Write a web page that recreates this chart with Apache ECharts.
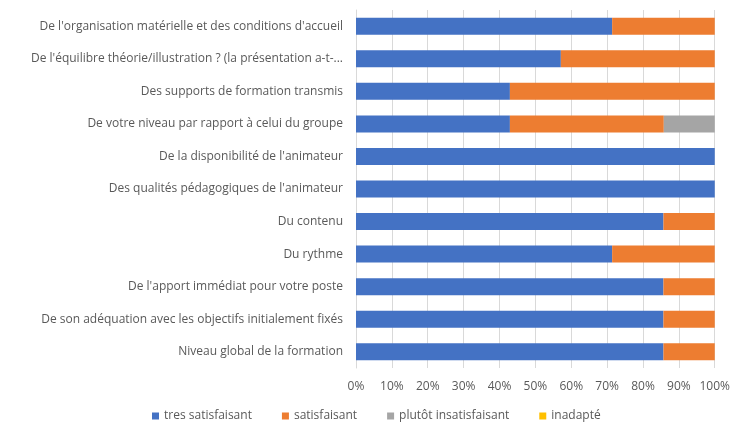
<!DOCTYPE html>
<html>
<head>
<meta charset="utf-8">
<script src="https://cdn.jsdelivr.net/npm/echarts@6/dist/echarts.min.js"></script>
<style>
  html, body { margin: 0; padding: 0; background: #fff; }
  #chart { width: 733px; height: 426px; }
</style>
</head>
<body>
<div id="chart"></div>
<script>
// questions, top to bottom
const categories = [
  "De l'organisation matérielle et des conditions d'accueil",
  "De l'équilibre théorie/illustration ? (la présentation a-t-...",
  'Des supports de formation transmis',
  'De votre niveau par rapport à celui du groupe',
  "De la disponibilité de l'animateur",
  "Des qualités pédagogiques de l'animateur",
  'Du contenu',
  'Du rythme',
  "De l'apport immédiat pour votre poste",
  'De son adéquation avec les objectifs initialement fixés',
  'Niveau global de la formation'
]

// parts in %
const tresSatisfaisant = [71.4, 57.1, 42.9, 42.9, 100, 100, 85.7, 71.4, 85.7, 85.7, 85.7]
const satisfaisant = [28.6, 42.9, 57.1, 42.9, 0, 0, 14.3, 28.6, 14.3, 14.3, 14.3]
const plutotInsatisfaisant = [0, 0, 0, 14.3, 0, 0, 0, 0, 0, 0, 0]
const inadapte = [0, 0, 0, 0, 0, 0, 0, 0, 0, 0, 0]

const seriesNames = ['tres satisfaisant', 'satisfaisant', 'plutôt insatisfaisant', 'inadapté']
const colors = ['#4472C4', '#ED7D31', '#A5A5A5', '#FFC000']

const font = "'Open Sans', 'Noto Sans', sans-serif"
const chart = echarts.init(document.getElementById('chart'))

function serie(i, data) {
  return {
    name: seriesNames[i],
    type: 'bar',
    stack: 'total',
    barWidth: 17,
    data: data,
    itemStyle: { color: colors[i] }
  }
}

chart.setOption({
  animation: false,
  textStyle: { fontFamily: font },
  color: colors,
  grid: {
    left: 356,
    right: 17,
    top: 10,
    bottom: 58
  },
  legend: {
    top: 405,
    left: 147,
    itemWidth: 7,
    itemHeight: 7,
    itemGap: 30,
    icon: 'rect',
    textStyle: { color: '#595959', fontSize: 12, fontFamily: font },
    data: seriesNames
  },
  xAxis: {
    type: 'value',
    min: 0,
    max: 100,
    interval: 10,
    axisLine: { show: false },
    axisTick: { show: false },
    axisLabel: {
      color: '#595959',
      fontSize: 12,
      margin: 13,
      formatter: '{value}%'
    },
    splitLine: { lineStyle: { color: '#D9D9D9' } }
  },
  yAxis: {
    type: 'category',
    inverse: true,
    data: categories,
    axisLine: { lineStyle: { color: '#D9D9D9' } },
    axisTick: { show: false },
    axisLabel: { color: '#595959', fontSize: 12, margin: 13 }
  },
  series: [
    serie(0, tresSatisfaisant),
    serie(1, satisfaisant),
    serie(2, plutotInsatisfaisant),
    serie(3, inadapte)
  ]
})
</script>
</body>
</html>
